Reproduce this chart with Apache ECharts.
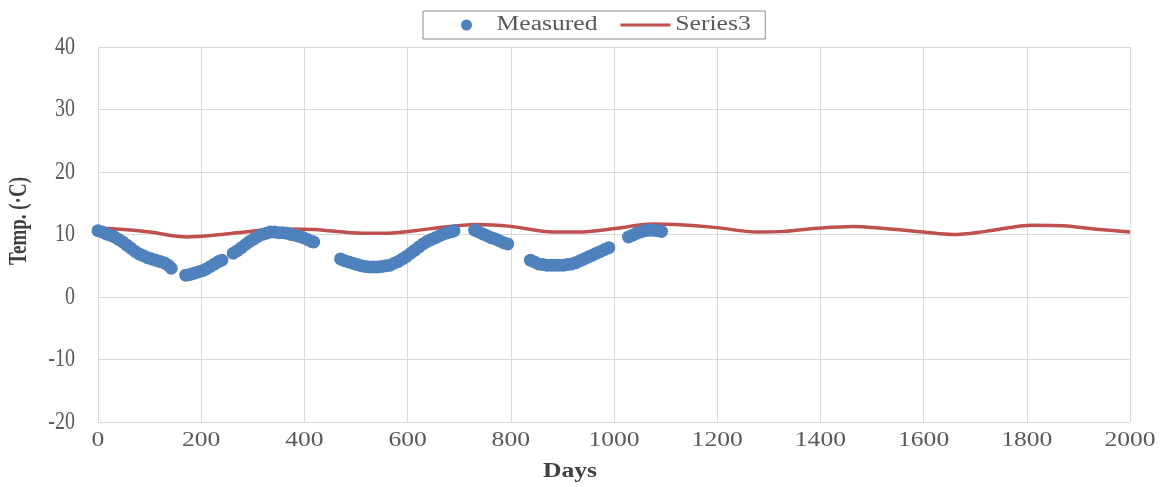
<!DOCTYPE html>
<html>
<head>
<meta charset="utf-8">
<script src="https://cdn.jsdelivr.net/npm/echarts@6/dist/echarts.min.js"></script>
<style>
  html, body { margin: 0; padding: 0; background: #fff; }
  #chart { width: 1162px; height: 487px; }
</style>
</head>
<body>
<div id="chart"></div>
<script>
// Measured temperature record (day, °C)
const measuredDays = [
  0, 8, 16, 24, 32, 40, 48, 56, 64, 72, 80, 88, 96, 104, 112, 120, 128, 136, 142,
  170, 178, 186, 194, 202, 210, 218, 226, 234, 240,
  262, 270, 278, 286, 294, 302, 310, 318, 326, 334, 342, 350, 358, 366, 374, 382, 390, 398, 406, 414, 418,
  470, 478, 486, 494, 502, 510, 518, 526, 534, 542, 550, 558, 566, 574, 582, 590, 598, 606, 614, 622, 630, 638, 646, 654, 662, 670, 678, 686, 690,
  730, 738, 746, 754, 762, 770, 778, 786, 794,
  838, 846, 854, 862, 870, 878, 886, 894, 902, 910, 918, 926, 934, 942, 950, 958, 966, 974, 982, 990,
  1028, 1036, 1044, 1052, 1060, 1068, 1076, 1084, 1092
];
const measuredTemps = [
  10.6, 10.4, 10.1, 9.9, 9.6, 9.2, 8.8, 8.3, 7.8, 7.3, 6.9, 6.6, 6.3, 6.1, 5.9, 5.7, 5.5, 5.1, 4.6,
  3.5, 3.6, 3.8, 4.0, 4.2, 4.5, 4.9, 5.3, 5.7, 5.9,
  7.0, 7.4, 7.9, 8.4, 8.9, 9.3, 9.7, 10.0, 10.2, 10.4, 10.4, 10.3, 10.3, 10.2, 10.0, 9.9, 9.7, 9.5, 9.2, 8.9, 8.8,
  6.1, 5.8, 5.6, 5.4, 5.2, 5.0, 4.9, 4.8, 4.8, 4.8, 4.9, 5.0, 5.1, 5.4, 5.7, 6.1, 6.5, 7.0, 7.5, 8.0, 8.5, 8.9, 9.2, 9.5, 9.8, 10.1, 10.3, 10.5, 10.6,
  10.7, 10.4, 10.1, 9.8, 9.5, 9.3, 9.0, 8.7, 8.5,
  5.9, 5.6, 5.3, 5.2, 5.1, 5.1, 5.1, 5.1, 5.1, 5.2, 5.3, 5.5, 5.8, 6.1, 6.4, 6.7, 7.0, 7.3, 7.6, 7.9,
  9.6, 9.9, 10.2, 10.4, 10.6, 10.7, 10.7, 10.6, 10.5
];

// Series3 curve (day, °C)
const series3Days = [
  0, 50, 100, 172, 240, 308, 360, 420, 514, 560, 643, 734, 800, 882, 930, 1006,
  1076, 1120, 1199, 1277, 1330, 1393, 1463, 1520, 1600, 1657, 1720, 1812, 1870, 1942, 2000
];
const series3Temps = [
  11.0, 10.8, 10.4, 9.6, 10.0, 10.6, 10.9, 10.8, 10.2, 10.2, 10.9, 11.6, 11.3, 10.4, 10.4, 11.0,
  11.7, 11.6, 11.1, 10.4, 10.5, 11.0, 11.3, 11.0, 10.4, 10.0, 10.5, 11.5, 11.4, 10.8, 10.4
];

// Axis ticks
const xTicks = [0, 200, 400, 600, 800, 1000, 1200, 1400, 1600, 1800, 2000];
const yTicks = [-20, -10, 0, 10, 20, 30, 40];

const FONT = '"Liberation Serif", "Times New Roman", serif';
const TEXT_STRETCH = 1.28;

const measuredData = measuredDays.map((d, i) => [d, measuredTemps[i]]);
const series3Data = series3Days.map((d, i) => [d, series3Temps[i]]);

const chart = echarts.init(document.getElementById('chart'), null, { renderer: 'canvas' });

chart.setOption({
  animation: false,
  backgroundColor: '#ffffff',
  grid: { left: 98, right: 32, top: 47, bottom: 65 },
  legend: {
    left: 423,
    top: 11,
    padding: [4, 31, 4, 38],
    itemGap: 45,
    itemWidth: 50,
    itemHeight: 11,
    borderColor: '#8c8c8c',
    borderWidth: 1,
    textStyle: { fontFamily: FONT, fontSize: 20, color: '#595959' },
    data: [
      { name: 'Measured', icon: 'circle' },
      { name: 'Series3', icon: 'path://M0,0L50,0L50,3L0,3Z' }
    ]
  },
  xAxis: {
    type: 'value',
    min: xTicks[0],
    max: xTicks[xTicks.length - 1],
    interval: xTicks[1] - xTicks[0],
    axisLine: { show: true, lineStyle: { color: '#d9d9d9', width: 1 } },
    axisTick: { show: false },
    splitLine: { show: true, lineStyle: { color: '#d9d9d9', width: 1 } },
    axisLabel: {
      fontFamily: FONT, fontSize: 20, color: '#595959', margin: 9,
      formatter: function (v) { return String(v); }
    }
  },
  yAxis: {
    type: 'value',
    min: yTicks[0],
    max: yTicks[yTicks.length - 1],
    interval: yTicks[1] - yTicks[0],
    axisLine: { show: true, lineStyle: { color: '#d9d9d9', width: 1 } },
    axisTick: { show: false },
    splitLine: { show: true, lineStyle: { color: '#d9d9d9', width: 1 } },
    axisLabel: {
      fontFamily: FONT, fontSize: 20, color: '#595959', margin: 23,
      formatter: function (v) { return String(v); }
    }
  },
  graphic: [
    {
      type: 'text',
      x: 20,
      y: 221,
      rotation: Math.PI / 2,
      style: {
        text: 'Temp. (\u00B7C)',
        font: 'bold 19px ' + FONT,
        fill: '#404040',
        align: 'center',
        verticalAlign: 'middle'
      }
    },
    {
      type: 'text',
      x: 570,
      y: 472,
      style: {
        text: 'Days',
        font: 'bold 20px ' + FONT,
        fill: '#404040',
        align: 'center',
        verticalAlign: 'middle'
      }
    }
  ],
  series: [
    {
      name: 'Series3',
      type: 'line',
      data: series3Data,
      smooth: 0.35,
      symbol: 'none',
      z: 2,
      lineStyle: { color: '#c0504d', width: 3.5 },
      itemStyle: { color: '#c0504d' }
    },
    {
      name: 'Measured',
      type: 'scatter',
      data: measuredData,
      symbol: 'circle',
      symbolSize: 13,
      z: 3,
      itemStyle: { color: '#4f81bd', opacity: 1 }
    }
  ]
});

// The serif lettering is set wide: stretch each text across the page's horizontal
// direction about its own anchor (local y for the rotated axis title).
function widenTexts(ec) {
  const zr = ec.getZr();
  zr.storage.getRoots().forEach(function (root) {
    const visit = function (el) {
      if (el.type === 'text') {
        el.originX = (el.style && el.style.x) || 0;
        el.originY = (el.style && el.style.y) || 0;
        if (el.rotation) {
          el.scaleY = TEXT_STRETCH;
        } else {
          el.scaleX = TEXT_STRETCH;
        }
        el.markRedraw();
      }
      if (el.isGroup) el.eachChild(visit);
    };
    visit(root);
  });
  zr.refresh();
}
widenTexts(chart);
</script>
</body>
</html>
